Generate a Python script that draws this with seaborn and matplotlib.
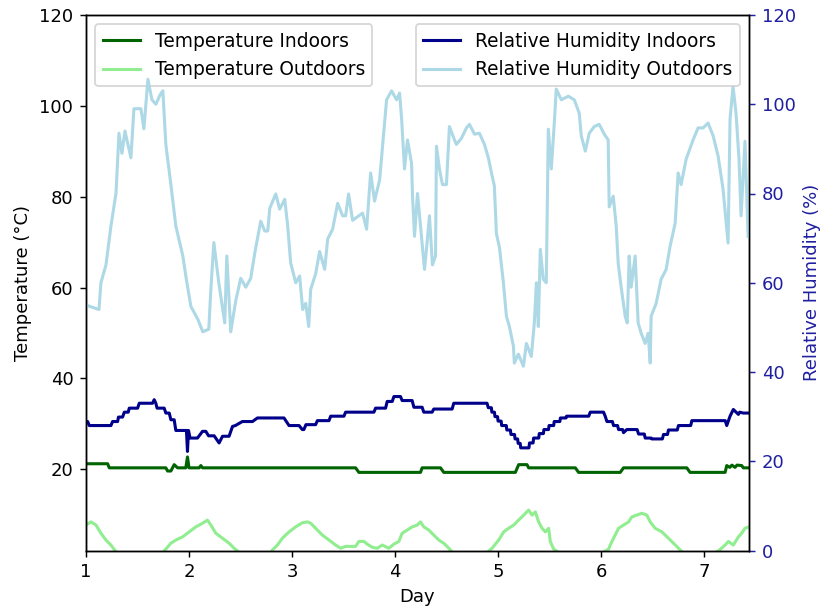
import matplotlib
matplotlib.use("Agg")
import matplotlib.pyplot as plt
import seaborn as sns
import pandas as pd

# ---------------- data ----------------
rh_out_day = [1.000, 1.126, 1.145, 1.194, 1.242, 1.291, 1.320, 1.349, 1.378, 1.436, 1.465, 1.533,
              1.562, 1.601, 1.640, 1.679, 1.717, 1.746, 1.775, 1.824, 1.872, 1.940, 1.969, 2.018,
              2.086, 2.134, 2.192, 2.212, 2.241, 2.289, 2.347, 2.367, 2.405, 2.454, 2.502, 2.551,
              2.599, 2.638, 2.696, 2.735, 2.764, 2.784, 2.842, 2.880, 2.929, 2.958, 2.987, 3.036,
              3.074, 3.103, 3.133, 3.162, 3.181, 3.229, 3.268, 3.317, 3.346, 3.394, 3.443, 3.491,
              3.520, 3.549, 3.588, 3.685, 3.724, 3.763, 3.801, 3.850, 3.879, 3.918, 3.966, 4.015,
              4.044, 4.063, 4.092, 4.121, 4.160, 4.170, 4.189, 4.218, 4.257, 4.286, 4.305, 4.334,
              4.363, 4.393, 4.402, 4.431, 4.460, 4.499, 4.528, 4.577, 4.596, 4.645, 4.693, 4.722,
              4.771, 4.819, 4.868, 4.906, 4.936, 4.964, 4.984, 5.013, 5.052, 5.081, 5.110, 5.149,
              5.158, 5.197, 5.246, 5.275, 5.323, 5.352, 5.372, 5.391, 5.410, 5.439, 5.468, 5.488,
              5.517, 5.546, 5.565, 5.614, 5.682, 5.740, 5.788, 5.808, 5.847, 5.885, 5.934, 5.982,
              6.031, 6.069, 6.079, 6.118, 6.147, 6.166, 6.195, 6.234, 6.254, 6.273, 6.292, 6.331,
              6.360, 6.389, 6.428, 6.457, 6.477, 6.486, 6.535, 6.583, 6.632, 6.670, 6.719, 6.748,
              6.777, 6.826, 6.893, 6.942, 6.991, 7.039, 7.088, 7.136, 7.184, 7.233, 7.252, 7.281,
              7.310, 7.339, 7.359, 7.397, 7.427]
rh_out_val = [55, 54, 60, 64, 72.7, 80, 93.5, 89, 94, 88, 99, 99,
              94.5, 105.6, 101, 100, 102, 103, 91, 82, 72.7, 66, 61.5, 54.7,
              51.8, 49, 49.6, 58.5, 69, 60, 51, 66, 49, 56, 61, 59,
              61, 66.6, 73.8, 71.6, 71.6, 76.7, 79.9, 76.5, 78.7, 72.7, 64.4, 60,
              61.5, 54, 55.4, 50.2, 58.5, 62, 67, 63, 69.8, 72, 77.8, 75,
              75, 79.9, 74, 75.6, 72, 84.6, 78.3, 83, 90.6, 101, 103, 101,
              102.5, 97, 85.5, 92, 86.8, 79.4, 70.4, 80, 70.4, 63, 67.5, 75,
              64, 66, 90.6, 85.5, 82, 82, 95, 92, 91, 92.4, 94.7, 95.5,
              93.3, 93.5, 91, 88, 84.6, 81.7, 71, 68, 60, 52.5, 50.2, 45.8,
              42, 44, 41.3, 46.4, 43.5, 51, 60, 50.2, 67.5, 60.8, 60, 94.4,
              85.5, 95.8, 103.4, 101, 101.8, 101, 98, 92.9, 89.5, 93.5, 95, 95.5,
              93.3, 92, 77, 79.4, 72.7, 64.4, 59, 52.5, 51, 66, 59, 66,
              51, 48.7, 46.4, 48.7, 42, 52.5, 55.4, 60.8, 63, 68.2, 73.3, 84.6,
              82, 87.7, 92, 94.7, 94.7, 95.8, 92.9, 88.4, 81, 68.9, 96.7, 104,
              98, 87.7, 75, 91.7, 70.4]

rh_in_day = [1.000, 1.016, 1.032, 1.242, 1.258, 1.307, 1.315, 1.355, 1.372, 1.410, 1.420, 1.501,
             1.517, 1.646, 1.662, 1.678, 1.690, 1.759, 1.775, 1.808, 1.824, 1.856, 1.872, 1.975,
             1.985, 1.995, 2.010, 2.082, 2.131, 2.163, 2.190, 2.244, 2.292, 2.325, 2.389, 2.422,
             2.450, 2.518, 2.616, 2.664, 2.922, 2.971, 3.068, 3.100, 3.115, 3.135, 3.229, 3.246,
             3.359, 3.375, 3.504, 3.520, 3.795, 3.811, 3.908, 3.924, 3.973, 3.989, 4.053, 4.069,
             4.166, 4.183, 4.263, 4.279, 4.360, 4.376, 4.554, 4.570, 4.893, 4.905, 4.935, 4.940,
             4.965, 4.970, 4.995, 5.000, 5.030, 5.035, 5.080, 5.085, 5.120, 5.125, 5.160, 5.165,
             5.190, 5.195, 5.215, 5.220, 5.300, 5.305, 5.340, 5.345, 5.395, 5.400, 5.440, 5.445,
             5.490, 5.495, 5.540, 5.545, 5.600, 5.605, 5.660, 5.665, 5.880, 5.895, 6.024, 6.040,
             6.057, 6.110, 6.121, 6.160, 6.170, 6.210, 6.218, 6.250, 6.350, 6.364, 6.420, 6.428,
             6.485, 6.493, 6.595, 6.606, 6.645, 6.654, 6.740, 6.751, 6.870, 6.881, 7.205, 7.220,
             7.252, 7.284, 7.310, 7.333, 7.345, 7.381, 7.436]
rh_in_val = [28.9, 28.9, 28.0, 28.0, 28.9, 28.9, 29.9, 29.9, 31.0, 31.0, 31.9, 31.9,
             33.0, 33.0, 33.8, 33.0, 31.9, 31.9, 30.8, 30.8, 29.3, 29.3, 26.9, 26.9,
             22.2, 26.9, 25.2, 25.2, 26.7, 26.7, 25.7, 25.7, 24.1, 25.6, 25.6, 27.8,
             28.0, 28.9, 28.9, 29.7, 29.7, 28.0, 28.0, 27.1, 27.1, 28.2, 28.2, 29.1,
             29.1, 30.1, 30.1, 31.0, 31.0, 31.9, 31.9, 33.4, 33.4, 34.5, 34.5, 33.6,
             33.6, 32.1, 32.1, 31.0, 31.0, 31.7, 31.7, 33.0, 33.0, 32.0, 32.0, 31.0,
             31.0, 30.0, 30.0, 29.0, 29.0, 28.0, 28.0, 27.0, 27.0, 26.0, 26.0, 25.0,
             25.0, 24.0, 24.0, 23.0, 23.0, 24.1, 24.1, 25.2, 25.2, 26.2, 26.2, 27.1,
             27.1, 28.0, 28.0, 28.9, 28.9, 29.7, 29.7, 30.1, 30.1, 31.0, 31.0, 30.1,
             28.9, 28.9, 28.0, 28.0, 27.1, 27.1, 26.4, 27.1, 27.1, 26.1, 26.1, 25.2,
             25.2, 25.0, 25.0, 26.0, 26.0, 27.0, 27.0, 28.0, 28.0, 29.1, 29.1, 28.0,
             30.1, 31.6, 31.0, 30.5, 31.0, 30.8, 30.8]

t_in_day = [1.000, 1.210, 1.226, 1.775, 1.792, 1.824, 1.840, 1.856, 1.889, 1.969, 1.985, 2.000,
            2.099, 2.115, 2.131, 3.617, 3.649, 4.247, 4.263, 4.441, 4.473, 5.168, 5.200, 5.281,
            5.297, 5.750, 5.782, 6.186, 6.218, 6.832, 6.864, 7.204, 7.220, 7.250, 7.270, 7.300,
            7.320, 7.365, 7.381, 7.436]
t_in_val = [21.2, 21.2, 20.3, 20.3, 19.6, 19.6, 20.3, 21.0, 20.3, 20.3, 22.7, 20.3,
            20.3, 20.8, 20.3, 20.3, 19.3, 19.3, 20.3, 20.3, 19.3, 19.3, 21.0, 21.0,
            20.3, 20.3, 19.3, 19.3, 20.3, 20.3, 19.3, 19.3, 20.8, 20.4, 20.9, 20.4,
            20.9, 20.8, 20.3, 20.3]

t_out_day = [1.000, 1.048, 1.097, 1.145, 1.194, 1.242, 1.291, 1.450, 1.650, 1.775, 1.824, 1.872,
             1.937, 2.002, 2.066, 2.131, 2.179, 2.212, 2.260, 2.325, 2.389, 2.438, 2.470, 2.600,
             2.750, 2.809, 2.858, 2.906, 2.971, 3.035, 3.100, 3.152, 3.181, 3.229, 3.294, 3.359,
             3.423, 3.472, 3.520, 3.617, 3.649, 3.698, 3.730, 3.779, 3.827, 3.876, 3.940, 3.989,
             4.037, 4.069, 4.118, 4.166, 4.215, 4.247, 4.279, 4.328, 4.376, 4.425, 4.473, 4.522,
             4.554, 4.650, 4.850, 4.942, 5.006, 5.055, 5.103, 5.152, 5.200, 5.249, 5.297, 5.330,
             5.362, 5.394, 5.427, 5.459, 5.491, 5.507, 5.540, 5.700, 5.900, 6.073, 6.089, 6.121,
             6.170, 6.218, 6.267, 6.299, 6.347, 6.396, 6.444, 6.477, 6.525, 6.590, 6.654, 6.703,
             6.751, 6.850, 7.000, 7.150, 7.204, 7.236, 7.284, 7.333, 7.365, 7.397, 7.436]
t_out_val = [7.7, 8.4, 7.7, 5.9, 4.4, 3.3, 1.8, -0.5, -0.5, 2.4, 3.7, 4.4,
             5.1, 6.2, 7.3, 8.1, 8.8, 7.7, 5.9, 4.8, 3.7, 2.6, 2.0, 0.0,
             0.0, 2.2, 3.3, 4.8, 6.2, 7.3, 8.2, 8.4, 8.1, 7.0, 5.5, 4.4,
             3.3, 2.6, 3.0, 3.0, 4.1, 4.1, 3.5, 2.8, 2.6, 3.3, 2.6, 3.5,
             4.1, 5.9, 6.6, 7.3, 7.7, 8.4, 7.3, 6.6, 5.5, 4.4, 3.7, 2.6,
             1.8, 0.5, 0.8, 2.6, 4.4, 6.2, 7.0, 7.7, 8.8, 9.9, 11.0, 9.9,
             10.6, 8.4, 7.0, 6.2, 7.0, 4.1, 2.4, 0.0, 0.0, 2.4, 3.3, 4.8,
             7.0, 7.7, 8.4, 9.5, 9.9, 10.3, 9.9, 8.4, 7.0, 6.2, 4.8, 3.7,
             2.6, 0.5, 0.0, 2.2, 3.3, 4.1, 3.3, 5.1, 5.9, 7.0, 7.3]

x_ticks = [1, 2, 3, 4, 5, 6, 7]
left_ticks = [20, 40, 60, 80, 100, 120]
right_ticks = [0, 20, 40, 60, 80, 100, 120]

# ---------------- plot ----------------
DPI = 130
fig = plt.figure(figsize=(822 / DPI, 613 / DPI), dpi=DPI)
ax = fig.add_axes([86 / 822, 1 - 550.5 / 613, (749 - 86) / 822, (550.5 - 15) / 613])
ax2 = ax.twinx()

t_in = pd.DataFrame({"Day": t_in_day, "T": t_in_val})
t_out = pd.DataFrame({"Day": t_out_day, "T": t_out_val})
rh_in = pd.DataFrame({"Day": rh_in_day, "RH": rh_in_val})
rh_out = pd.DataFrame({"Day": rh_out_day, "RH": rh_out_val})

LW = 1.7
sns.lineplot(data=t_in, x="Day", y="T", ax=ax, color="darkgreen", label="Temperature Indoors",
             estimator=None, sort=False, linewidth=LW)
sns.lineplot(data=t_out, x="Day", y="T", ax=ax, color="lightgreen", label="Temperature Outdoors",
             estimator=None, sort=False, linewidth=LW)
sns.lineplot(data=rh_in, x="Day", y="RH", ax=ax2, color="darkblue", label="Relative Humidity Indoors",
             estimator=None, sort=False, linewidth=LW)
sns.lineplot(data=rh_out, x="Day", y="RH", ax=ax2, color="lightblue", label="Relative Humidity Outdoors",
             estimator=None, sort=False, linewidth=LW)

ax.set_xlim(1, 7.436)
ax.set_ylim(2.1, 120)
ax2.set_ylim(0, 120)
ax.set_xticks(x_ticks)
ax.set_yticks(left_ticks)
ax2.set_yticks(right_ticks)

ax.set_xlabel("Day")
ax.set_ylabel("Temperature (°C)")
ax2.set_ylabel("Relative Humidity (%)", color="#1f1fa0")
ax2.tick_params(axis="y", colors="#1f1fa0")
ax2.spines["right"].set_color("black")

ax.legend(loc="upper left", fontsize=10.3)
ax2.legend(loc="upper right", fontsize=10.3)

fig.savefig("out.png", dpi=DPI)
